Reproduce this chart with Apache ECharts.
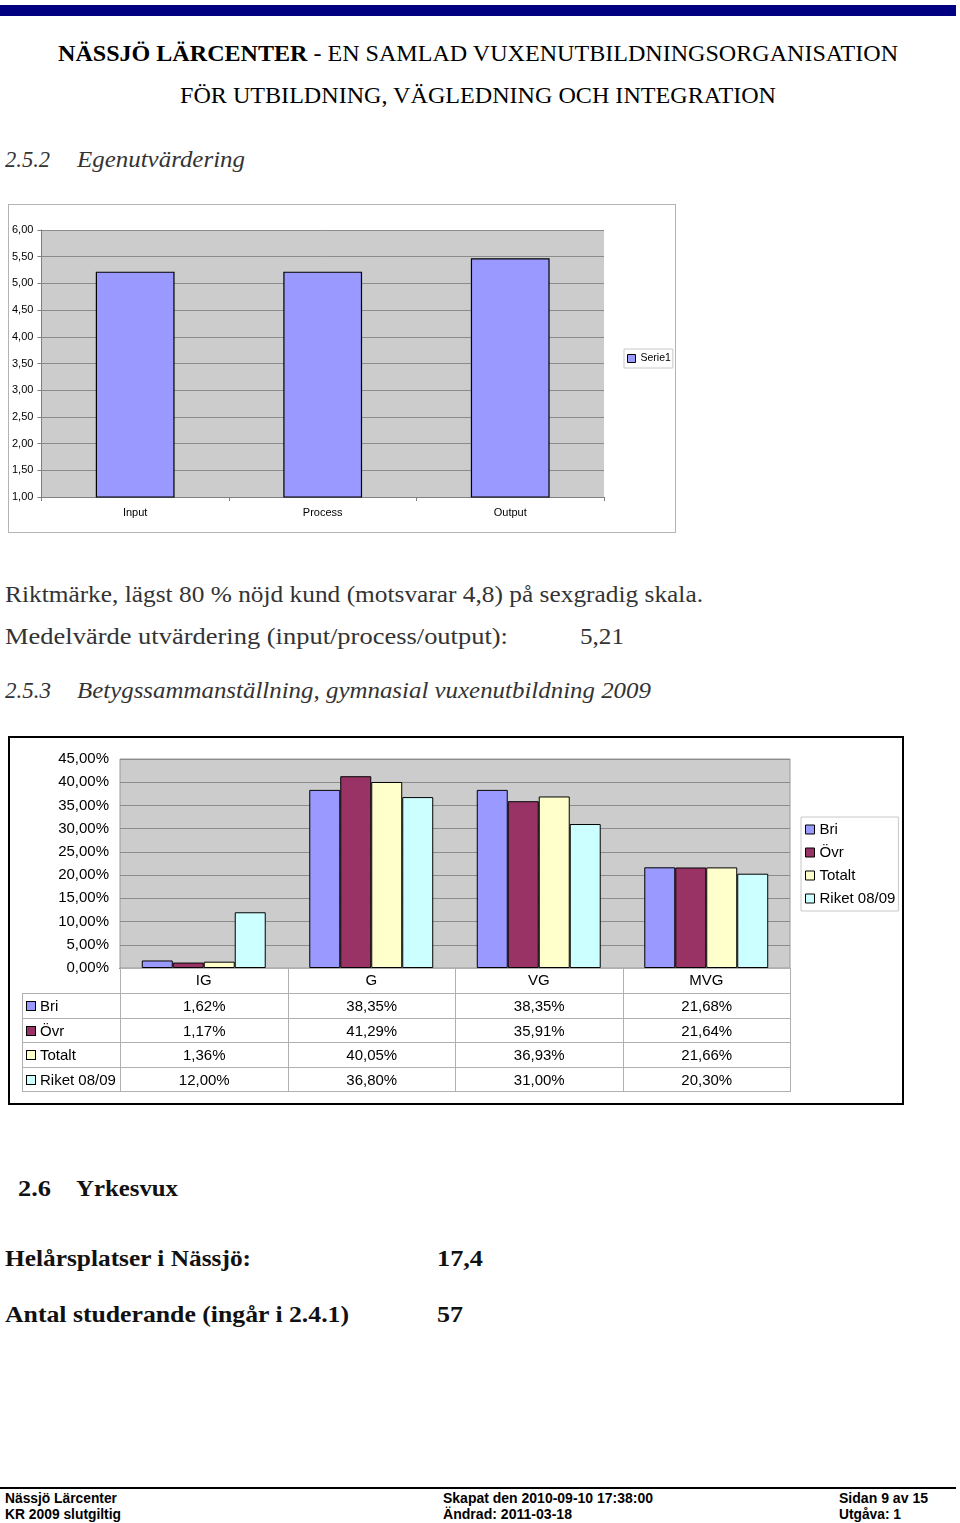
<!DOCTYPE html>
<html>
<head>
<meta charset="utf-8">
<script src="https://cdn.jsdelivr.net/npm/echarts@6/dist/echarts.min.js"></script>
<style>
  body { margin: 0; background: #fff; }
  #page { position: relative; width: 960px; height: 1523px; overflow: hidden; background: #fff; }
  .t { position: absolute; white-space: nowrap; line-height: 1; transform-origin: left center; }
  .serif { font-family: "Liberation Serif", "Times New Roman", serif; }
  .body { font-family: "Liberation Serif", serif; color: #333; }
  .sans { font-family: "Liberation Sans", Arial, sans-serif; }
  #topbar { position: absolute; left: 0; top: 5px; width: 956px; height: 11px; background: #000080; }
  #footline { position: absolute; left: 0; top: 1487px; width: 956px; height: 2px; background: #000; }
  #chart1 { position: absolute; left: 8px; top: 204px; width: 666px; height: 327px; border: 1px solid #b4b4b4; }
  #chart2 { position: absolute; left: 8px; top: 736px; width: 892px; height: 365px; border: 2px solid #000; }
  #tbl { position: absolute; left: 22px; top: 968px; border-collapse: collapse; table-layout: fixed;
         font-family: "Liberation Sans", Arial, sans-serif; font-size: 15px; color: #000; }
  #tbl td { border: 1px solid #b0b0b0; padding: 0; text-align: center; height: 23.5px; }
  #tbl td.lab { text-align: left; padding-left: 3px; }
  #tbl td.blank { border: none; }
  .mk { display: inline-block; width: 8px; height: 8px; border: 1px solid #000; margin-right: 4px; vertical-align: 0px; }
</style>
</head>
<body>
<div id="page">
  <div id="topbar"></div>

  <div class="t serif" data-w="840" style="left:58px;top:41px;font-size:24px;color:#000"><b>NÄSSJÖ LÄRCENTER</b> - EN SAMLAD VUXENUTBILDNINGSORGANISATION</div>
  <div class="t serif" data-w="596" style="left:180px;top:83px;font-size:24px;color:#000">FÖR UTBILDNING, VÄGLEDNING OCH INTEGRATION</div>

  <div class="t body" data-w="45" style="left:5px;top:147px;font-size:24px;font-style:italic">2.5.2</div>
  <div class="t body" data-w="168" style="left:77px;top:147px;font-size:24px;font-style:italic">Egenutvärdering</div>

  <div id="chart1"></div>

  <div class="t body" data-w="698" style="left:5px;top:583px;font-size:23px">Riktmärke, lägst 80 % nöjd kund (motsvarar 4,8) på sexgradig skala.</div>
  <div class="t body" data-w="503" style="left:5px;top:625px;font-size:23px">Medelvärde utvärdering (input/process/output):</div>
  <div class="t body" data-w="44" style="left:580px;top:625px;font-size:23px">5,21</div>

  <div class="t body" data-w="46" style="left:5px;top:678px;font-size:24px;font-style:italic">2.5.3</div>
  <div class="t body" data-w="574" style="left:77px;top:678px;font-size:24px;font-style:italic">Betygssammanställning, gymnasial vuxenutbildning 2009</div>

  <div id="chart2"></div>
  <table id="tbl"></table>

  <div class="t serif" data-w="33" style="left:18px;top:1177px;font-size:23px;font-weight:bold;color:#111">2.6</div>
  <div class="t serif" data-w="102" style="left:76px;top:1177px;font-size:23px;font-weight:bold;color:#111">Yrkesvux</div>

  <div class="t serif" data-w="246" style="left:5px;top:1246px;font-size:24px;font-weight:bold;color:#111">Helårsplatser i Nässjö:</div>
  <div class="t serif" data-w="46" style="left:437px;top:1246px;font-size:24px;font-weight:bold;color:#111">17,4</div>
  <div class="t serif" data-w="344" style="left:5px;top:1302px;font-size:24px;font-weight:bold;color:#111">Antal studerande (ingår i 2.4.1)</div>
  <div class="t serif" data-w="26" style="left:437px;top:1302px;font-size:24px;font-weight:bold;color:#111">57</div>

  <div id="footline"></div>
  <div class="t sans" data-w="112" style="left:5px;top:1491px;font-size:14px;font-weight:bold">Nässjö Lärcenter</div>
  <div class="t sans" data-w="116" style="left:5px;top:1507px;font-size:14px;font-weight:bold">KR 2009 slutgiltig</div>
  <div class="t sans" data-w="210" style="left:443px;top:1491px;font-size:14px;font-weight:bold">Skapat den 2010-09-10 17:38:00</div>
  <div class="t sans" data-w="129" style="left:443px;top:1507px;font-size:14px;font-weight:bold">Ändrad: 2011-03-18</div>
  <div class="t sans" data-w="89" style="left:839px;top:1491px;font-size:14px;font-weight:bold">Sidan 9 av 15</div>
  <div class="t sans" data-w="62" style="left:839px;top:1507px;font-size:14px;font-weight:bold">Utgåva: 1</div>
</div>

<script>
// självvärdering (chart 1)
const selfCategories = ['Input', 'Process', 'Output']
const selfValues = [5.22, 5.22, 5.47]
const selfMin = 1
const selfMax = 6
const selfStep = 0.5

// betyg (chart 2), in percent
const gradeCategories = ['IG', 'G', 'VG', 'MVG']
const seriesNames = ['Bri', 'Övr', 'Totalt', 'Riket 08/09']
const briValues = [1.62, 38.35, 38.35, 21.68]
const ovrValues = [1.17, 41.29, 35.91, 21.64]
const totaltValues = [1.36, 40.05, 36.93, 21.66]
const riketValues = [12.00, 36.80, 31.00, 20.30]
const gradeMax = 45
const gradeStep = 5

const seriesColors = ['#9999ff', '#993366', '#ffffcc', '#ccffff']
const fmt = v => v.toFixed(2).replace('.', ',')

// stretch text lines to the widths in the scan
document.querySelectorAll('[data-w]').forEach(el => {
    const w = el.getBoundingClientRect().width
    const target = +el.dataset.w
    if (w > 0) el.style.transform = 'scaleX(' + (target / w).toFixed(4) + ')'
})

const chart1 = echarts.init(document.getElementById('chart1'))
chart1.setOption({
    animation: false,
    textStyle: { fontFamily: 'Liberation Sans, Arial, sans-serif' },
    grid: { left: 29, top: 25, width: 566, height: 267, show: true, backgroundColor: '#cccccc', borderWidth: 0 },
    legend: {
        data: ['Serie1'],
        left: 615, top: 144,
        icon: 'rect', itemWidth: 8, itemHeight: 8, itemGap: 4,
        padding: [4, 2, 4, 3],
        borderColor: '#c8c8c8', borderWidth: 1,
        textStyle: { fontSize: 10.5, color: '#000' },
        itemStyle: { borderColor: '#000', borderWidth: 1 }
    },
    xAxis: {
        type: 'category',
        data: selfCategories,
        axisLine: { lineStyle: { color: '#808080' } },
        axisTick: { show: true, length: 4, lineStyle: { color: '#808080' } },
        axisLabel: { fontSize: 11, color: '#000', margin: 10 }
    },
    yAxis: {
        type: 'value',
        min: selfMin, max: selfMax, interval: selfStep,
        axisLine: { show: true, lineStyle: { color: '#808080' } },
        axisTick: { show: true, length: 4, lineStyle: { color: '#808080' } },
        axisLabel: { fontSize: 11, color: '#000', margin: 8, formatter: fmt },
        splitLine: { lineStyle: { color: '#8c8c8c' } }
    },
    series: [{
        name: 'Serie1',
        type: 'bar',
        data: selfValues,
        barWidth: '42%',
        itemStyle: { color: '#9999ff', borderColor: '#000', borderWidth: 1.2 }
    }]
})

const gradeData = [briValues, ovrValues, totaltValues, riketValues]

const chart2 = echarts.init(document.getElementById('chart2'))
chart2.setOption({
    animation: false,
    textStyle: { fontFamily: 'Liberation Sans, Arial, sans-serif' },
    grid: { left: 110, top: 21, width: 670, height: 209, show: true, backgroundColor: '#cccccc', borderColor: '#9a9a9a', borderWidth: 1 },
    legend: {
        data: seriesNames,
        orient: 'vertical',
        left: 791, top: 79,
        icon: 'rect', itemWidth: 9, itemHeight: 9, itemGap: 8,
        padding: [5, 3, 5, 4],
        borderColor: '#c8c8c8', borderWidth: 1,
        textStyle: { fontSize: 15, color: '#000' },
        itemStyle: { borderColor: '#000', borderWidth: 1 }
    },
    xAxis: {
        type: 'category',
        data: gradeCategories,
        axisLine: { lineStyle: { color: '#000', width: 1 } },
        axisTick: { show: false },
        axisLabel: { fontSize: 15, color: '#000', margin: 5 }
    },
    yAxis: {
        type: 'value',
        min: 0, max: gradeMax, interval: gradeStep,
        axisLine: { show: false },
        axisTick: { show: false },
        axisLabel: { fontSize: 15, color: '#000', margin: 11, formatter: v => fmt(v) + '%' },
        splitLine: { lineStyle: { color: '#8c8c8c' } }
    },
    series: seriesNames.map((name, i) => ({
        name: name,
        type: 'bar',
        data: gradeData[i],
        barGap: '0%',
        barCategoryGap: '26%',
        itemStyle: { color: seriesColors[i], borderColor: '#000', borderWidth: 1 }
    }))
})

// data table below chart 2
const tbl = document.getElementById('tbl')
let html = '<colgroup><col style="width:98px">' + gradeCategories.map(() => '<col style="width:167.5px">').join('') + '</colgroup>'
html += '<tr><td class="blank"></td>' + gradeCategories.map(() => '<td style="height:24px"></td>').join('') + '</tr>'
seriesNames.forEach((name, i) => {
    html += '<tr><td class="lab"><span class="mk" style="background:' + seriesColors[i] + '"></span>' + name + '</td>'
    html += gradeData[i].map(v => '<td>' + fmt(v) + '%</td>').join('') + '</tr>'
})
tbl.innerHTML = html
</script>
</body>
</html>
